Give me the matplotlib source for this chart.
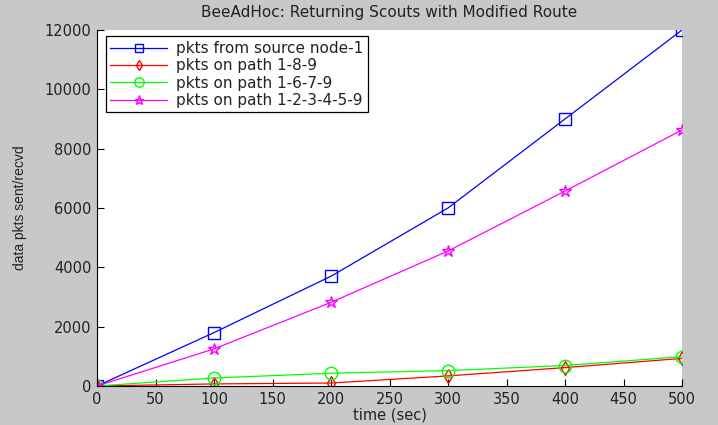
import matplotlib
matplotlib.use("Agg")
import matplotlib.pyplot as plt

time_sec = [0, 100, 200, 300, 400, 500]
source_node1 = [0, 1800, 3700, 6000, 9000, 12000]
path_189 = [0, 70, 100, 340, 620, 930]
path_1679 = [0, 270, 430, 520, 690, 990]
path_123459 = [0, 1250, 2820, 4550, 6570, 8630]

labels = ["pkts from source node-1", "pkts on path 1-8-9",
          "pkts on path 1-6-7-9", "pkts on path 1-2-3-4-5-9"]

plt.rcParams['font.family'] = ['DejaVu Sans']
fig = plt.figure(figsize=(7.18, 4.25), dpi=100, facecolor='#c8c8c8')
ax = fig.add_axes([97/718, 1-386/425, (682-97)/718, (386-30)/425])
ax.set_facecolor('white')

ax.plot(time_sec, source_node1, color='#0000ff', lw=0.9, marker='s', ms=8.5,
        mfc='none', mec='#0000ff', label=labels[0])
ax.plot(time_sec, path_189, color='#ff0000', lw=0.9, marker='d', ms=7,
        mfc='none', mec='#ff0000', label=labels[1])
ax.plot(time_sec, path_1679, color='#00ff00', lw=0.9, marker='o', ms=9,
        mfc='none', mec='#00ff00', label=labels[2])
ax.plot(time_sec, path_123459, color='#ff00ff', lw=0.9, marker='*', ms=9,
        mfc='none', mec='#ff00ff', label=labels[3])

ax.set_xlim(0, 500)
ax.set_ylim(0, 12000)
ax.set_xticks(range(0, 501, 50))
ax.set_yticks(range(0, 12001, 2000))
ax.tick_params(direction='in', length=5, labelsize=10.5, width=0.8, pad=4,
               labelcolor='#222222')
for s in ['top', 'right']:
    ax.spines[s].set_visible(False)
for s in ['left', 'bottom']:
    ax.spines[s].set_linewidth(0.8)

ax.set_xlabel('time (sec)', fontsize=10.5, labelpad=1, color='#222222')
ax.set_ylabel('data pkts sent/recvd', fontsize=10, labelpad=13, color='#222222',
              family=['Liberation Sans', 'DejaVu Sans'])
ax.set_title('BeeAdHoc: Returning Scouts with Modified Route', fontsize=11,
             pad=9, color='#222222')

leg = ax.legend(loc='upper left', bbox_to_anchor=(0.015, 0.982), fontsize=11,
                frameon=True, fancybox=False, edgecolor='black', framealpha=1,
                handlelength=3.7, borderpad=0.3, labelspacing=0.15, borderaxespad=0,
                markerscale=0.75, handletextpad=0.6)
leg.get_frame().set_linewidth(0.9)
for t in leg.get_texts():
    t.set_color('#222222')

fig.savefig('out.png', dpi=100, facecolor=fig.get_facecolor())
